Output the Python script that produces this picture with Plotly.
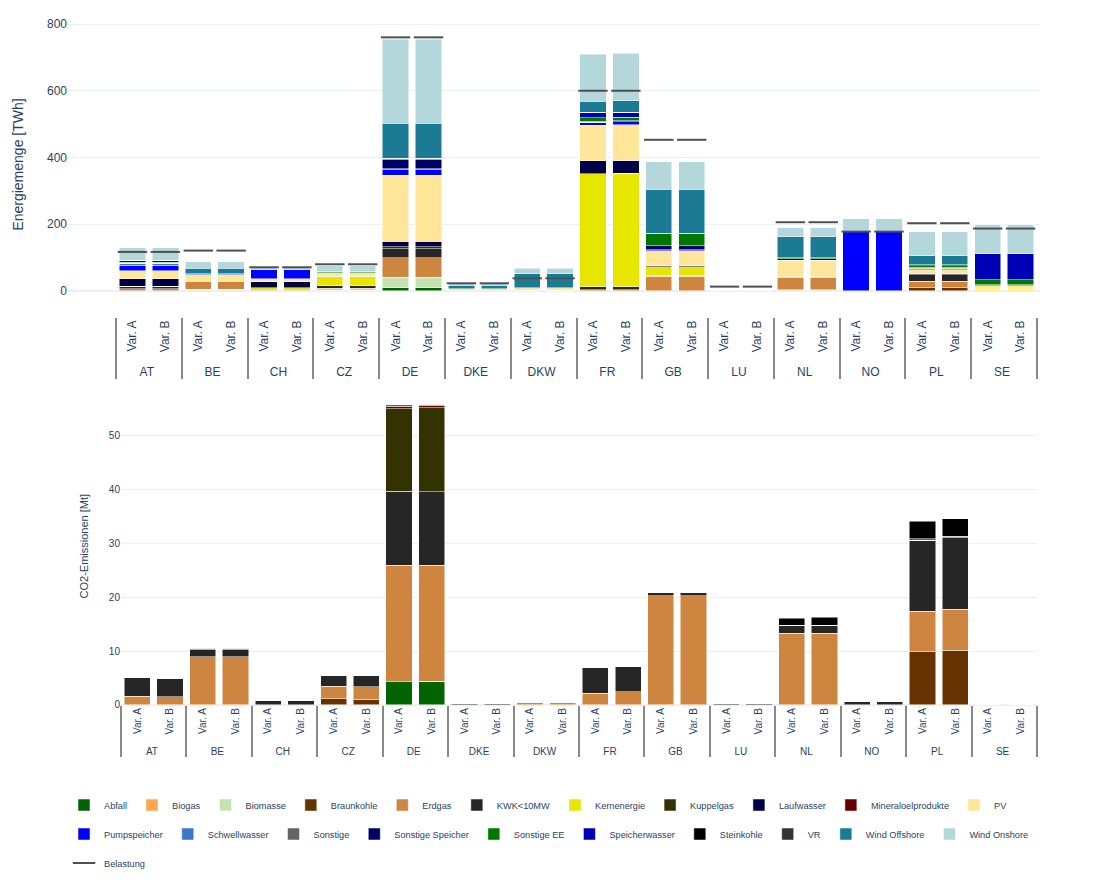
import plotly.graph_objects as go
from plotly.subplots import make_subplots

# categories
countries = ["AT", "BE", "CH", "CZ", "DE", "DKE", "DKW", "FR", "GB", "LU", "NL", "NO", "PL", "SE"]
variants = ["Var. A", "Var. B"]

# Energiemenge [TWh], order: AT A, AT B, BE A, BE B, ... SE A, SE B
en_abfall = [0, 0, 0, 0, 0, 0, 0, 0, 9, 9, 0, 0, 0, 0, 0, 0, 0, 0, 0, 0, 0, 0, 0, 0, 0, 0, 0, 0]
en_biogas = [0, 0, 0, 0, 0, 0, 0, 0, 0, 0, 0, 0, 0, 0, 0, 0, 0, 0, 0, 0, 0, 0, 0, 0, 0, 0, 0, 0]
en_biomasse = [0, 0, 5, 5, 0, 0, 2, 2, 32, 32, 0, 0, 2, 2, 0, 0, 0, 0, 0, 0, 4, 4, 0, 0, 0, 0, 0, 0]
en_braunkohle = [0, 0, 0, 0, 0, 0, 1, 1, 0, 0, 0, 0, 0, 0, 0, 0, 0, 0, 0, 0, 0, 0, 0, 0, 9, 9, 0, 0]
en_erdgas = [6, 6, 23, 23, 0, 0, 5, 5, 59, 59, 0, 0, 0, 0, 4, 4, 44, 44, 0.5, 0.5, 37, 37, 0, 0, 20, 20, 0, 0]
en_kwk = [8, 8, 0, 0, 2, 2, 7, 7, 26, 26, 0, 0, 0, 0, 9, 9, 2, 2, 0.5, 0.5, 2, 2, 0, 0, 20, 20, 0, 0]
en_kernenergie = [0, 0, 0, 0, 8, 8, 27, 27, 0, 0, 0, 0, 0, 0, 339, 340, 26, 26, 0, 0, 0, 0, 0, 0, 0, 0, 4, 4]
en_kuppelgas = [0, 0, 0, 0, 0, 0, 0, 0, 6, 6, 0, 0, 0, 0, 0, 0, 0, 0, 0, 0, 0, 0, 0, 0, 0, 0, 0, 0]
en_laufwasser = [23, 23, 0, 0, 18, 18, 2, 2, 16, 16, 0, 0, 0, 0, 38, 38, 4, 4, 0, 0, 0, 0, 0, 0, 3, 3, 0, 0]
en_mineraloel = [0, 0, 0, 0, 0, 0, 0, 0, 1, 1, 0, 0, 0, 0, 0, 0, 0, 0, 0, 0, 0, 0, 0, 0, 0, 0, 0, 0]
en_pv = [23, 23, 20, 20, 9, 9, 11, 11, 198, 198, 6, 6, 8, 8, 107, 107, 44, 44, 1, 1, 49, 49, 0, 0, 12, 12, 11, 11]
en_pumpspeicher = [17, 17, 0, 0, 26, 26, 0, 0, 16, 16, 0, 0, 0, 0, 9, 9, 4, 4, 0, 0, 0, 0, 180, 180, 0, 0, 0, 0]
en_schwellwasser = [6, 6, 3, 3, 0, 0, 0, 0, 0, 0, 0, 0, 0, 0, 0, 0, 0, 0, 0, 0, 0, 0, 0, 0, 0, 0, 0, 0]
en_sonstige = [0, 0, 0, 0, 0, 0, 0, 0, 4, 4, 0, 0, 0, 0, 0, 0, 0, 0, 0, 0, 0, 0, 0, 0, 4, 4, 4, 4]
en_sonst_speicher = [0, 0, 0, 0, 0, 0, 0, 0, 26, 26, 0, 0, 0, 0, 3, 3, 12, 12, 0, 0, 5, 5, 0, 0, 3, 3, 0, 0]
en_sonst_ee = [3, 3, 0, 0, 0, 0, 3, 3, 3, 3, 0, 0, 0, 0, 10, 10, 37, 37, 0, 0, 2, 2, 0, 0, 5, 5, 14, 14]
en_speicherwasser = [6, 6, 0, 0, 0, 0, 0, 0, 2, 2, 0, 0, 0, 0, 16, 16, 0, 0, 0, 0, 0, 0, 0, 0, 0, 0, 78, 78]
en_steinkohle = [0, 0, 0, 0, 0, 0, 0, 0, 0, 0, 0, 0, 0, 0, 0, 0, 0, 0, 0, 0, 1, 1, 0, 0, 3, 3, 0, 0]
en_vr = [0, 0, 0, 0, 0, 0, 0, 0, 0, 0, 0, 0, 0, 0, 0, 0, 0, 0, 0, 0, 0, 0, 0, 0, 0, 0, 0, 0]
en_wind_off = [0, 0, 17, 17, 0, 0, 0, 0, 104, 104, 11, 11, 42, 42, 34, 34, 132, 132, 0, 0, 62, 62, 0, 0, 26, 26, 0, 0]
en_wind_on = [38, 38, 20, 20, 7, 7, 18, 18, 252, 252, 7, 7, 16, 16, 141, 143, 82, 82, 1.5, 1.5, 28, 28, 36, 36, 73, 73, 87, 87]

belastung = [117, 117, 121, 121, 71, 71, 80, 80, 760, 760, 23, 23, 38, 38, 600, 600,
             453, 453, 13, 13, 206, 206, 178, 178, 203, 203, 187, 187]

# CO2-Emissionen [Mt]
co2_abfall = [0, 0, 0, 0, 0, 0, 0, 0, 4.33, 4.4, 0, 0, 0, 0, 0, 0, 0, 0, 0, 0, 0, 0, 0, 0, 0, 0, 0, 0]
co2_braunkohle = [0, 0, 0, 0, 0, 0, 1.15, 1.05, 0, 0, 0, 0, 0, 0, 0, 0, 0, 0, 0, 0, 0, 0, 0, 0, 9.9, 10.16, 0, 0]
co2_erdgas = [1.67, 1.55, 8.98, 8.98, 0, 0, 2.3, 2.35, 21.6, 21.55, 0.05, 0.05, 0.45, 0.45, 2.17, 2.42,
              20.25, 20.25, 0, 0, 13.3, 13.3, 0, 0, 7.5, 7.62, 0, 0]
co2_kwk = [3.47, 3.4, 1.24, 1.24, 0.8, 0.8, 2.1, 2.1, 13.75, 13.7, 0.2, 0.2, 0.1, 0.1, 4.77, 4.64,
           0.56, 0.62, 0.25, 0.25, 1.49, 1.55, 0.74, 0.74, 13.25, 13.3, 0, 0]
co2_kuppelgas = [0, 0, 0, 0, 0, 0, 0, 0, 15.36, 15.6, 0, 0, 0, 0, 0, 0, 0, 0, 0, 0, 0, 0, 0, 0, 0, 0, 0, 0]
co2_mineraloel = [0, 0, 0, 0, 0, 0, 0, 0, 0.5, 0.43, 0, 0, 0, 0, 0, 0, 0, 0, 0, 0, 0, 0, 0, 0, 0, 0, 0, 0]
co2_sonstige = [0, 0, 0.3, 0.3, 0, 0, 0, 0, 0.2, 0.2, 0, 0, 0, 0, 0, 0, 0, 0, 0, 0, 0, 0, 0, 0, 0.25, 0.25, 0, 0]
co2_steinkohle = [0, 0, 0, 0, 0, 0, 0, 0, 0, 0, 0, 0, 0, 0, 0, 0, 0, 0, 0, 0, 1.36, 1.42, 0, 0, 3.28, 3.28, 0, 0]

# name, colour, energy data, co2 data
carriers = [
    ("Abfall", "#006400", en_abfall, co2_abfall),
    ("Biogas", "#FFA54F", en_biogas, None),
    ("Biomasse", "#C7E2B2", en_biomasse, None),
    ("Braunkohle", "#663300", en_braunkohle, co2_braunkohle),
    ("Erdgas", "#CD853F", en_erdgas, co2_erdgas),
    ("KWK<10MW", "#262626", en_kwk, co2_kwk),
    ("Kernenergie", "#E6E600", en_kernenergie, None),
    ("Kuppelgas", "#333300", en_kuppelgas, co2_kuppelgas),
    ("Laufwasser", "#000046", en_laufwasser, None),
    ("Mineraloelprodukte", "#660000", en_mineraloel, co2_mineraloel),
    ("PV", "#FFE699", en_pv, None),
    ("Pumpspeicher", "#0000FF", en_pumpspeicher, None),
    ("Schwellwasser", "#3C78C8", en_schwellwasser, None),
    ("Sonstige", "#646464", en_sonstige, co2_sonstige),
    ("Sonstige Speicher", "#000064", en_sonst_speicher, None),
    ("Sonstige EE", "#007800", en_sonst_ee, None),
    ("Speicherwasser", "#0000B4", en_speicherwasser, None),
    ("Steinkohle", "#000000", en_steinkohle, co2_steinkohle),
    ("VR", "#333333", en_vr, None),
    ("Wind Offshore", "#1B7A94", en_wind_off, None),
    ("Wind Onshore", "#B4D7DB", en_wind_on, None),
]

x = [[c for c in countries for v in variants], [v for c in countries for v in variants]]

fig = make_subplots(rows=2, cols=1)

for name, color, en, co2 in carriers:
    fig.add_trace(go.Bar(x=x, y=en, name=name, marker_color=color, legendgroup=name), row=1, col=1)
    if co2 is not None:
        fig.add_trace(go.Bar(x=x, y=co2, name=name, marker_color=color, legendgroup=name,
                             showlegend=False), row=2, col=1)

fig.add_trace(go.Scatter(x=x, y=belastung, name="Belastung", mode="markers", legendgroup="Belastung",
                         marker=dict(symbol="line-ew", size=21, color="#505050",
                                     line=dict(width=2, color="#505050"))), row=1, col=1)

fig.update_layout(
    template="plotly_white",
    barmode="stack",
    width=1101, height=884,
    margin=dict(l=60, r=69, t=4, b=187),
    font=dict(family="Arial, Liberation Sans, sans-serif"),
    legend=dict(orientation="h", x=-0.0041, xanchor="left", y=-0.1234, yanchor="top",
                font=dict(size=9.2)),
    xaxis=dict(domain=[0, 1], range=[-1.96, 27.59], tickangle=-90, showgrid=False,
               tickfont=dict(size=12), dividercolor="#888", dividerwidth=1.5),
    yaxis=dict(domain=[0.5599, 1], range=[-78, 836], dtick=200, tickfont=dict(size=12),
               title=dict(text="Energiemenge [TWh]", font=dict(size=14), standoff=20)),
    xaxis2=dict(domain=[0.0545, 0.997], range=[-0.5, 27.5], tickangle=-90, showgrid=False,
                tickfont=dict(size=10), dividercolor="#888", dividerwidth=1.5),
    yaxis2=dict(domain=[0, 0.4583], range=[0, 59], dtick=10, tickfont=dict(size=10),
                title=dict(text="CO2-Emissionen [Mt]", font=dict(size=11), standoff=17)),
)

fig.write_html("out.html")
